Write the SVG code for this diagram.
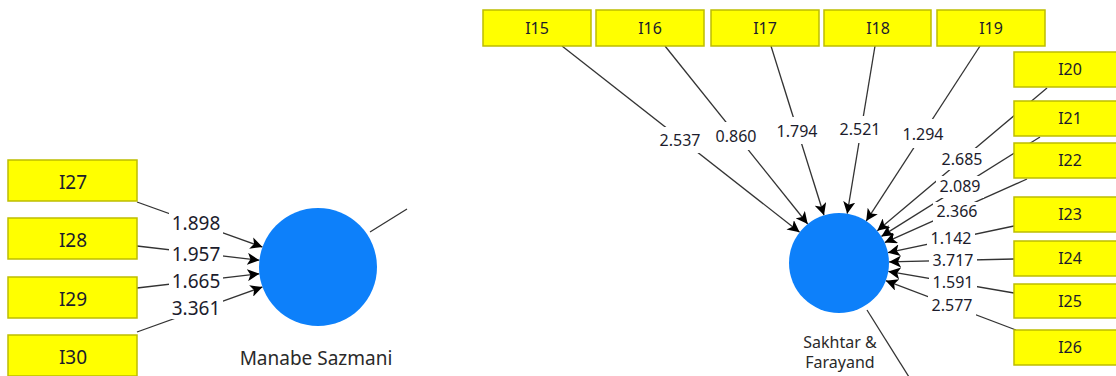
<svg xmlns="http://www.w3.org/2000/svg" width="1116" height="376" viewBox="0 0 1116 376">
  <defs>
    <marker id="arrow" markerUnits="userSpaceOnUse" markerWidth="14" markerHeight="12" refX="12" refY="6" orient="auto">
      <path d="M0,0 L12,6 L0,12 L3,6 z" fill="#000"/>
    </marker>
  </defs>
  <style>
    .bg { fill: #ffffff; }
    .ind rect { fill: #ffff00; stroke: #bdbd00; stroke-width: 1.5; }
    .ind text { font-family: "Noto Sans", "DejaVu Sans", sans-serif; fill: #1c1c2c; text-anchor: middle; }
    .lat circle { fill: #0d80fa; }
    .lat text { font-family: "Noto Sans", "DejaVu Sans", sans-serif; fill: #2a2a2a; text-anchor: middle; }
    .edge { stroke: #333333; stroke-width: 1.3; fill: none; }
    .arr { marker-end: url(#arrow); }
    .lbl rect { fill: #ffffff; }
    .lbl text { font-family: "Noto Sans", "DejaVu Sans", sans-serif; fill: #1c1c2c; text-anchor: middle; }
    .s15 { font-size: 16px; }
    .s18 { font-size: 19px; }
  </style>

  <rect class="bg" x="0" y="0" width="1116" height="376"/>

  <!-- connectors: indicator -> construct paths, plus outgoing structural paths -->
  <g id="connectors">
    <!-- Manabe Sazmani block -->
    <line class="edge arr" x1="137" y1="202" x2="262.5" y2="247.1"/>
    <line class="edge arr" x1="137" y1="246" x2="259.4" y2="260.2"/>
    <line class="edge arr" x1="137" y1="288" x2="259.4" y2="273.8"/>
    <line class="edge arr" x1="137" y1="332" x2="262.5" y2="286.9"/>
    <line class="edge" x1="370" y1="232" x2="407" y2="209"/>

    <!-- Sakhtar & Farayand block -->
    <line class="edge arr" x1="562" y1="46" x2="799.6" y2="232.2"/>
    <line class="edge arr" x1="665" y1="46" x2="807.7" y2="224.0"/>
    <line class="edge arr" x1="771" y1="46" x2="824.0" y2="215.3"/>
    <line class="edge arr" x1="875" y1="46" x2="847.2" y2="213.7"/>
    <line class="edge arr" x1="980" y1="46" x2="866.2" y2="221.1"/>
    <line class="edge arr" x1="1047" y1="88" x2="877.3" y2="230.8"/>
    <line class="edge arr" x1="1040" y1="137" x2="881.4" y2="236.4"/>
    <line class="edge arr" x1="1027" y1="179" x2="884.7" y2="242.6"/>
    <line class="edge arr" x1="1014" y1="226" x2="887.9" y2="252.7"/>
    <line class="edge arr" x1="1014" y1="259" x2="889.0" y2="261.9"/>
    <line class="edge arr" x1="1014" y1="293" x2="888.3" y2="271.4"/>
    <line class="edge arr" x1="1016" y1="330" x2="885.8" y2="280.7"/>
    <line class="edge" x1="867" y1="310" x2="909" y2="377"/>

    <!-- path coefficients -->
    <g class="lbl">
      <rect x="169" y="212" width="54" height="22"/><text class="s18" x="196" y="230">1.898</text>
      <rect x="169" y="244" width="54" height="21"/><text class="s18" x="196" y="261">1.957</text>
      <rect x="169" y="271" width="54" height="20"/><text class="s18" x="196" y="288">1.665</text>
      <rect x="169" y="297" width="54" height="22"/><text class="s18" x="196" y="315">3.361</text>

      <rect x="656" y="127" width="48" height="26"/><text class="s15" x="680" y="146">2.537</text>
      <rect x="712" y="122" width="48" height="28"/><text class="s15" x="736" y="142">0.860</text>
      <rect x="773" y="117" width="48" height="27"/><text class="s15" x="797" y="137">1.794</text>
      <rect x="836" y="116" width="48" height="27"/><text class="s15" x="860" y="135">2.521</text>
      <rect x="899" y="119" width="48" height="29"/><text class="s15" x="923" y="140">1.294</text>
      <rect x="938" y="148" width="48" height="22"/><text class="s15" x="962" y="165">2.685</text>
      <rect x="936" y="176" width="48" height="22"/><text class="s15" x="960" y="192">2.089</text>
      <rect x="933" y="202" width="48" height="20"/><text class="s15" x="957" y="217">2.366</text>
      <rect x="927" y="229" width="48" height="19"/><text class="s15" x="951" y="244">1.142</text>
      <rect x="929" y="251" width="48" height="19"/><text class="s15" x="953" y="266">3.717</text>
      <rect x="929" y="273" width="48" height="19"/><text class="s15" x="953" y="288">1.591</text>
      <rect x="928" y="296" width="48" height="20"/><text class="s15" x="952" y="311">2.577</text>
    </g>
  </g>

  <!-- indicators: Manabe Sazmani -->
  <g id="I27" class="ind"><rect x="8" y="160" width="129" height="41"/><text class="s18" x="73" y="189">I27</text></g>
  <g id="I28" class="ind"><rect x="8" y="218" width="129" height="41"/><text class="s18" x="73" y="247">I28</text></g>
  <g id="I29" class="ind"><rect x="8" y="277" width="129" height="41"/><text class="s18" x="73" y="306">I29</text></g>
  <g id="I30" class="ind"><rect x="8" y="335" width="129" height="41"/><text class="s18" x="73" y="364">I30</text></g>

  <!-- indicators: Sakhtar & Farayand (top row) -->
  <g id="I15" class="ind"><rect x="483" y="10" width="108" height="36"/><text class="s15" x="537" y="34">I15</text></g>
  <g id="I16" class="ind"><rect x="596" y="10" width="108" height="36"/><text class="s15" x="650" y="34">I16</text></g>
  <g id="I17" class="ind"><rect x="711" y="10" width="108" height="36"/><text class="s15" x="765" y="34">I17</text></g>
  <g id="I18" class="ind"><rect x="824" y="10" width="107" height="36"/><text class="s15" x="878" y="34">I18</text></g>
  <g id="I19" class="ind"><rect x="937" y="10" width="108" height="36"/><text class="s15" x="991" y="34">I19</text></g>

  <!-- indicators: Sakhtar & Farayand (right column) -->
  <g id="I20" class="ind"><rect x="1014" y="52" width="112" height="35"/><text class="s15" x="1070" y="75">I20</text></g>
  <g id="I21" class="ind"><rect x="1014" y="101" width="112" height="35"/><text class="s15" x="1070" y="124">I21</text></g>
  <g id="I22" class="ind"><rect x="1014" y="143" width="112" height="35"/><text class="s15" x="1070" y="166">I22</text></g>
  <g id="I23" class="ind"><rect x="1014" y="197" width="112" height="35"/><text class="s15" x="1070" y="220">I23</text></g>
  <g id="I24" class="ind"><rect x="1014" y="241" width="112" height="35"/><text class="s15" x="1070" y="264">I24</text></g>
  <g id="I25" class="ind"><rect x="1014" y="284" width="112" height="34"/><text class="s15" x="1070" y="307">I25</text></g>
  <g id="I26" class="ind"><rect x="1014" y="330" width="112" height="35"/><text class="s15" x="1070" y="353">I26</text></g>

  <!-- latent constructs -->
  <g id="ManabeSazmani" class="lat">
    <circle cx="318" cy="267" r="59"/>
    <text class="s18" x="316" y="365">Manabe Sazmani</text>
  </g>
  <g id="SakhtarFarayand" class="lat">
    <circle cx="839" cy="263" r="50"/>
    <text class="s15" x="840" y="348">Sakhtar &amp;</text>
    <text class="s15" x="840" y="368">Farayand</text>
  </g>
</svg>
